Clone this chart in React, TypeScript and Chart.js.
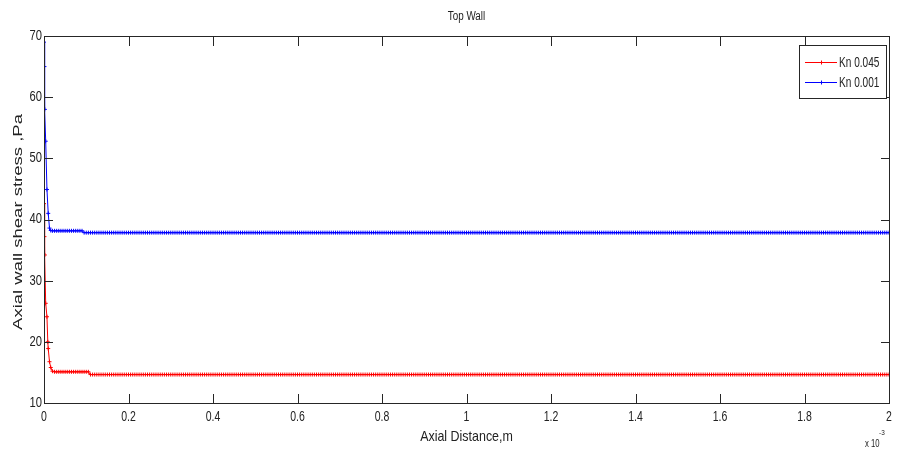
import React, { useEffect, useRef } from "react";
import { Chart, registerables } from "chart.js";

Chart.register(...registerables);

const chartTitle = "Top Wall";
const xTitle = "Axial Distance,m";
const yTitle = "Axial wall shear stress ,Pa";
const xExponentBase = "x 10";
const xExponentPower = "-3";
const seriesNames = ["Kn 0.045", "Kn 0.001"];
const seriesColors = ["#ff0000", "#0000ff"];

const xTickValues = [0, 0.2, 0.4, 0.6, 0.8, 1, 1.2, 1.4, 1.6, 1.8, 2];
const xTickLabels = ["0", "0.2", "0.4", "0.6", "0.8", "1", "1.2", "1.4", "1.6", "1.8", "2"];
const yTickValues = [10, 20, 30, 40, 50, 60, 70];
const yTickLabels = ["10", "20", "30", "40", "50", "60", "70"];

// Near-inlet points (x in units of 1e-3 m)
const redHeadX = [0, 0.001, 0.002, 0.004, 0.007, 0.009, 0.01, 0.013, 0.016];
const redHeadY = [42.6, 37.2, 34.2, 26.3, 24.1, 20.0, 18.9, 16.75, 15.8];
const blueHeadX = [0, 0.001, 0.002, 0.004, 0.007, 0.01, 0.013, 0.016];
const blueHeadY = [69, 65, 58, 52.8, 44.9, 41.0, 38.6, 38.2];

// Developed region, shared x positions
const tailX = [
  0.020, 0.025, 0.030, 0.035, 0.040, 0.045, 0.050, 0.055, 0.060, 0.065, 0.070, 0.075, 0.080, 0.085, 0.090, 0.095,
  0.100, 0.105, 0.110, 0.115, 0.120, 0.125, 0.130, 0.135, 0.140, 0.145, 0.150, 0.155, 0.160, 0.165, 0.170, 0.175, 0.180, 0.185, 0.190, 0.195,
  0.200, 0.205, 0.210, 0.215, 0.220, 0.225, 0.230, 0.235, 0.240, 0.245, 0.250, 0.255, 0.260, 0.265, 0.270, 0.275, 0.280, 0.285, 0.290, 0.295,
  0.300, 0.305, 0.310, 0.315, 0.320, 0.325, 0.330, 0.335, 0.340, 0.345, 0.350, 0.355, 0.360, 0.365, 0.370, 0.375, 0.380, 0.385, 0.390, 0.395,
  0.400, 0.405, 0.410, 0.415, 0.420, 0.425, 0.430, 0.435, 0.440, 0.445, 0.450, 0.455, 0.460, 0.465, 0.470, 0.475, 0.480, 0.485, 0.490, 0.495,
  0.500, 0.505, 0.510, 0.515, 0.520, 0.525, 0.530, 0.535, 0.540, 0.545, 0.550, 0.555, 0.560, 0.565, 0.570, 0.575, 0.580, 0.585, 0.590, 0.595,
  0.600, 0.605, 0.610, 0.615, 0.620, 0.625, 0.630, 0.635, 0.640, 0.645, 0.650, 0.655, 0.660, 0.665, 0.670, 0.675, 0.680, 0.685, 0.690, 0.695,
  0.700, 0.705, 0.710, 0.715, 0.720, 0.725, 0.730, 0.735, 0.740, 0.745, 0.750, 0.755, 0.760, 0.765, 0.770, 0.775, 0.780, 0.785, 0.790, 0.795,
  0.800, 0.805, 0.810, 0.815, 0.820, 0.825, 0.830, 0.835, 0.840, 0.845, 0.850, 0.855, 0.860, 0.865, 0.870, 0.875, 0.880, 0.885, 0.890, 0.895,
  0.900, 0.905, 0.910, 0.915, 0.920, 0.925, 0.930, 0.935, 0.940, 0.945, 0.950, 0.955, 0.960, 0.965, 0.970, 0.975, 0.980, 0.985, 0.990, 0.995,
  1.000, 1.005, 1.010, 1.015, 1.020, 1.025, 1.030, 1.035, 1.040, 1.045, 1.050, 1.055, 1.060, 1.065, 1.070, 1.075, 1.080, 1.085, 1.090, 1.095,
  1.100, 1.105, 1.110, 1.115, 1.120, 1.125, 1.130, 1.135, 1.140, 1.145, 1.150, 1.155, 1.160, 1.165, 1.170, 1.175, 1.180, 1.185, 1.190, 1.195,
  1.200, 1.205, 1.210, 1.215, 1.220, 1.225, 1.230, 1.235, 1.240, 1.245, 1.250, 1.255, 1.260, 1.265, 1.270, 1.275, 1.280, 1.285, 1.290, 1.295,
  1.300, 1.305, 1.310, 1.315, 1.320, 1.325, 1.330, 1.335, 1.340, 1.345, 1.350, 1.355, 1.360, 1.365, 1.370, 1.375, 1.380, 1.385, 1.390, 1.395,
  1.400, 1.405, 1.410, 1.415, 1.420, 1.425, 1.430, 1.435, 1.440, 1.445, 1.450, 1.455, 1.460, 1.465, 1.470, 1.475, 1.480, 1.485, 1.490, 1.495,
  1.500, 1.505, 1.510, 1.515, 1.520, 1.525, 1.530, 1.535, 1.540, 1.545, 1.550, 1.555, 1.560, 1.565, 1.570, 1.575, 1.580, 1.585, 1.590, 1.595,
  1.600, 1.605, 1.610, 1.615, 1.620, 1.625, 1.630, 1.635, 1.640, 1.645, 1.650, 1.655, 1.660, 1.665, 1.670, 1.675, 1.680, 1.685, 1.690, 1.695,
  1.700, 1.705, 1.710, 1.715, 1.720, 1.725, 1.730, 1.735, 1.740, 1.745, 1.750, 1.755, 1.760, 1.765, 1.770, 1.775, 1.780, 1.785, 1.790, 1.795,
  1.800, 1.805, 1.810, 1.815, 1.820, 1.825, 1.830, 1.835, 1.840, 1.845, 1.850, 1.855, 1.860, 1.865, 1.870, 1.875, 1.880, 1.885, 1.890, 1.895,
  1.900, 1.905, 1.910, 1.915, 1.920, 1.925, 1.930, 1.935, 1.940, 1.945, 1.950, 1.955, 1.960, 1.965, 1.970, 1.975, 1.980, 1.985, 1.990, 1.995,
  2.000,
];

const redTailY = [
  15.2, 15.1, 15.1, 15.1, 15.1, 15.1, 15.1, 15.1, 15.1, 15.1, 15.1, 15.1, 15.1, 15.1, 15.1, 15.1,
  15.1, 15.1, 14.65, 14.65, 14.65, 14.65, 14.65, 14.65, 14.65, 14.65, 14.65, 14.65, 14.65, 14.65, 14.65, 14.65, 14.65, 14.65, 14.65, 14.65,
  14.65, 14.65, 14.65, 14.65, 14.65, 14.65, 14.65, 14.65, 14.65, 14.65, 14.65, 14.65, 14.65, 14.65, 14.65, 14.65, 14.65, 14.65, 14.65, 14.65,
  14.65, 14.65, 14.65, 14.65, 14.65, 14.65, 14.65, 14.65, 14.65, 14.65, 14.65, 14.65, 14.65, 14.65, 14.65, 14.65, 14.65, 14.65, 14.65, 14.65,
  14.65, 14.65, 14.65, 14.65, 14.65, 14.65, 14.65, 14.65, 14.65, 14.65, 14.65, 14.65, 14.65, 14.65, 14.65, 14.65, 14.65, 14.65, 14.65, 14.65,
  14.65, 14.65, 14.65, 14.65, 14.65, 14.65, 14.65, 14.65, 14.65, 14.65, 14.65, 14.65, 14.65, 14.65, 14.65, 14.65, 14.65, 14.65, 14.65, 14.65,
  14.65, 14.65, 14.65, 14.65, 14.65, 14.65, 14.65, 14.65, 14.65, 14.65, 14.65, 14.65, 14.65, 14.65, 14.65, 14.65, 14.65, 14.65, 14.65, 14.65,
  14.65, 14.65, 14.65, 14.65, 14.65, 14.65, 14.65, 14.65, 14.65, 14.65, 14.65, 14.65, 14.65, 14.65, 14.65, 14.65, 14.65, 14.65, 14.65, 14.65,
  14.65, 14.65, 14.65, 14.65, 14.65, 14.65, 14.65, 14.65, 14.65, 14.65, 14.65, 14.65, 14.65, 14.65, 14.65, 14.65, 14.65, 14.65, 14.65, 14.65,
  14.65, 14.65, 14.65, 14.65, 14.65, 14.65, 14.65, 14.65, 14.65, 14.65, 14.65, 14.65, 14.65, 14.65, 14.65, 14.65, 14.65, 14.65, 14.65, 14.65,
  14.65, 14.65, 14.65, 14.65, 14.65, 14.65, 14.65, 14.65, 14.65, 14.65, 14.65, 14.65, 14.65, 14.65, 14.65, 14.65, 14.65, 14.65, 14.65, 14.65,
  14.65, 14.65, 14.65, 14.65, 14.65, 14.65, 14.65, 14.65, 14.65, 14.65, 14.65, 14.65, 14.65, 14.65, 14.65, 14.65, 14.65, 14.65, 14.65, 14.65,
  14.65, 14.65, 14.65, 14.65, 14.65, 14.65, 14.65, 14.65, 14.65, 14.65, 14.65, 14.65, 14.65, 14.65, 14.65, 14.65, 14.65, 14.65, 14.65, 14.65,
  14.65, 14.65, 14.65, 14.65, 14.65, 14.65, 14.65, 14.65, 14.65, 14.65, 14.65, 14.65, 14.65, 14.65, 14.65, 14.65, 14.65, 14.65, 14.65, 14.65,
  14.65, 14.65, 14.65, 14.65, 14.65, 14.65, 14.65, 14.65, 14.65, 14.65, 14.65, 14.65, 14.65, 14.65, 14.65, 14.65, 14.65, 14.65, 14.65, 14.65,
  14.65, 14.65, 14.65, 14.65, 14.65, 14.65, 14.65, 14.65, 14.65, 14.65, 14.65, 14.65, 14.65, 14.65, 14.65, 14.65, 14.65, 14.65, 14.65, 14.65,
  14.65, 14.65, 14.65, 14.65, 14.65, 14.65, 14.65, 14.65, 14.65, 14.65, 14.65, 14.65, 14.65, 14.65, 14.65, 14.65, 14.65, 14.65, 14.65, 14.65,
  14.65, 14.65, 14.65, 14.65, 14.65, 14.65, 14.65, 14.65, 14.65, 14.65, 14.65, 14.65, 14.65, 14.65, 14.65, 14.65, 14.65, 14.65, 14.65, 14.65,
  14.65, 14.65, 14.65, 14.65, 14.65, 14.65, 14.65, 14.65, 14.65, 14.65, 14.65, 14.65, 14.65, 14.65, 14.65, 14.65, 14.65, 14.65, 14.65, 14.65,
  14.65, 14.65, 14.65, 14.65, 14.65, 14.65, 14.65, 14.65, 14.65, 14.65, 14.65, 14.65, 14.65, 14.65, 14.65, 14.65, 14.65, 14.65, 14.65, 14.65,
  14.65,
];

const blueTailY = [
  38.15, 38.15, 38.15, 38.15, 38.15, 38.15, 38.15, 38.15, 38.15, 38.15, 38.15, 38.15, 38.15, 38.15, 38.15, 37.85,
  37.85, 37.85, 37.85, 37.85, 37.85, 37.85, 37.85, 37.85, 37.85, 37.85, 37.85, 37.85, 37.85, 37.85, 37.85, 37.85, 37.85, 37.85, 37.85, 37.85,
  37.85, 37.85, 37.85, 37.85, 37.85, 37.85, 37.85, 37.85, 37.85, 37.85, 37.85, 37.85, 37.85, 37.85, 37.85, 37.85, 37.85, 37.85, 37.85, 37.85,
  37.85, 37.85, 37.85, 37.85, 37.85, 37.85, 37.85, 37.85, 37.85, 37.85, 37.85, 37.85, 37.85, 37.85, 37.85, 37.85, 37.85, 37.85, 37.85, 37.85,
  37.85, 37.85, 37.85, 37.85, 37.85, 37.85, 37.85, 37.85, 37.85, 37.85, 37.85, 37.85, 37.85, 37.85, 37.85, 37.85, 37.85, 37.85, 37.85, 37.85,
  37.85, 37.85, 37.85, 37.85, 37.85, 37.85, 37.85, 37.85, 37.85, 37.85, 37.85, 37.85, 37.85, 37.85, 37.85, 37.85, 37.85, 37.85, 37.85, 37.85,
  37.85, 37.85, 37.85, 37.85, 37.85, 37.85, 37.85, 37.85, 37.85, 37.85, 37.85, 37.85, 37.85, 37.85, 37.85, 37.85, 37.85, 37.85, 37.85, 37.85,
  37.85, 37.85, 37.85, 37.85, 37.85, 37.85, 37.85, 37.85, 37.85, 37.85, 37.85, 37.85, 37.85, 37.85, 37.85, 37.85, 37.85, 37.85, 37.85, 37.85,
  37.85, 37.85, 37.85, 37.85, 37.85, 37.85, 37.85, 37.85, 37.85, 37.85, 37.85, 37.85, 37.85, 37.85, 37.85, 37.85, 37.85, 37.85, 37.85, 37.85,
  37.85, 37.85, 37.85, 37.85, 37.85, 37.85, 37.85, 37.85, 37.85, 37.85, 37.85, 37.85, 37.85, 37.85, 37.85, 37.85, 37.85, 37.85, 37.85, 37.85,
  37.85, 37.85, 37.85, 37.85, 37.85, 37.85, 37.85, 37.85, 37.85, 37.85, 37.85, 37.85, 37.85, 37.85, 37.85, 37.85, 37.85, 37.85, 37.85, 37.85,
  37.85, 37.85, 37.85, 37.85, 37.85, 37.85, 37.85, 37.85, 37.85, 37.85, 37.85, 37.85, 37.85, 37.85, 37.85, 37.85, 37.85, 37.85, 37.85, 37.85,
  37.85, 37.85, 37.85, 37.85, 37.85, 37.85, 37.85, 37.85, 37.85, 37.85, 37.85, 37.85, 37.85, 37.85, 37.85, 37.85, 37.85, 37.85, 37.85, 37.85,
  37.85, 37.85, 37.85, 37.85, 37.85, 37.85, 37.85, 37.85, 37.85, 37.85, 37.85, 37.85, 37.85, 37.85, 37.85, 37.85, 37.85, 37.85, 37.85, 37.85,
  37.85, 37.85, 37.85, 37.85, 37.85, 37.85, 37.85, 37.85, 37.85, 37.85, 37.85, 37.85, 37.85, 37.85, 37.85, 37.85, 37.85, 37.85, 37.85, 37.85,
  37.85, 37.85, 37.85, 37.85, 37.85, 37.85, 37.85, 37.85, 37.85, 37.85, 37.85, 37.85, 37.85, 37.85, 37.85, 37.85, 37.85, 37.85, 37.85, 37.85,
  37.85, 37.85, 37.85, 37.85, 37.85, 37.85, 37.85, 37.85, 37.85, 37.85, 37.85, 37.85, 37.85, 37.85, 37.85, 37.85, 37.85, 37.85, 37.85, 37.85,
  37.85, 37.85, 37.85, 37.85, 37.85, 37.85, 37.85, 37.85, 37.85, 37.85, 37.85, 37.85, 37.85, 37.85, 37.85, 37.85, 37.85, 37.85, 37.85, 37.85,
  37.85, 37.85, 37.85, 37.85, 37.85, 37.85, 37.85, 37.85, 37.85, 37.85, 37.85, 37.85, 37.85, 37.85, 37.85, 37.85, 37.85, 37.85, 37.85, 37.85,
  37.85, 37.85, 37.85, 37.85, 37.85, 37.85, 37.85, 37.85, 37.85, 37.85, 37.85, 37.85, 37.85, 37.85, 37.85, 37.85, 37.85, 37.85, 37.85, 37.85,
  37.85,
];

const SANS = '"Liberation Sans", Arial, sans-serif';
const TEXT = "#222222";

function toPoints(hx: number[], hy: number[], tx: number[], ty: number[]) {
  const pts = hx.map((x, i) => ({ x, y: hy[i] }));
  tx.forEach((x, i) => {
    if (ty[i] !== undefined) pts.push({ x, y: ty[i] });
  });
  return pts;
}

function drawText(
  ctx: CanvasRenderingContext2D,
  text: string,
  x: number,
  y: number,
  size: number,
  sx: number,
  align: CanvasTextAlign
) {
  ctx.save();
  ctx.translate(x, y);
  ctx.scale(sx, 1);
  ctx.font = `${size}px ${SANS}`;
  ctx.fillStyle = TEXT;
  ctx.textAlign = align;
  ctx.textBaseline = "middle";
  ctx.fillText(text, 0, 0);
  ctx.restore();
}

const decorPlugin = {
  id: "matlabDecor",
  afterDraw(chart: any) {
    const { ctx, chartArea: a, scales } = chart;
    ctx.save();
    // box
    ctx.strokeStyle = "#262626";
    ctx.lineWidth = 1;
    ctx.strokeRect(a.left + 0.5, a.top + 0.5, a.right - a.left, a.bottom - a.top);
    // inward ticks
    ctx.beginPath();
    xTickValues.forEach((v) => {
      const px = Math.round(scales.x.getPixelForValue(v)) + 0.5;
      ctx.moveTo(px, a.bottom + 0.5);
      ctx.lineTo(px, a.bottom - 9);
      ctx.moveTo(px, a.top + 0.5);
      ctx.lineTo(px, a.top + 10);
    });
    yTickValues.forEach((v) => {
      const py = Math.round(scales.y.getPixelForValue(v)) + 0.5;
      ctx.moveTo(a.left + 0.5, py);
      ctx.lineTo(a.left + 9, py);
      ctx.moveTo(a.right + 0.5, py);
      ctx.lineTo(a.right - 8, py);
    });
    ctx.stroke();

    // tick labels
    xTickValues.forEach((v, i) => {
      const px = scales.x.getPixelForValue(v);
      drawText(ctx, xTickLabels[i], px, 417, 15, 0.7, "center");
    });
    yTickValues.forEach((v, i) => {
      const py = scales.y.getPixelForValue(v);
      drawText(ctx, yTickLabels[i], a.left - 2, py, 14, 0.8, "right");
    });

    // legend
    const lx = 799.5, ly = 45.5, lw = 87, lh = 53;
    ctx.fillStyle = "#ffffff";
    ctx.fillRect(lx, ly, lw, lh);
    ctx.strokeStyle = "#262626";
    ctx.strokeRect(lx, ly, lw, lh);
    const rows = [62.5, 82.5];
    seriesNames.forEach((name, i) => {
      const y = rows[i];
      ctx.strokeStyle = seriesColors[i];
      ctx.beginPath();
      ctx.moveTo(805, y);
      ctx.lineTo(837, y);
      ctx.moveTo(821.5, y - 2);
      ctx.lineTo(821.5, y + 2);
      ctx.stroke();
      drawText(ctx, name, 839, y + 0.5, 14, 0.72, "left");
    });

    // chart title
    drawText(ctx, chartTitle, (a.left + a.right) / 2, 17, 12, 0.82, "center");
    // x title
    drawText(ctx, xTitle, (a.left + a.right) / 2, 437, 15, 0.83, "center");
    // exponent
    drawText(ctx, xExponentBase, 865, 444, 11, 0.7, "left");
    drawText(ctx, xExponentPower, 879, 433, 8, 0.8, "left");

    // y title (rotated, horizontally condensed)
    ctx.save();
    ctx.translate(19, 222);
    ctx.rotate(-Math.PI / 2);
    ctx.scale(1, 0.65);
    ctx.font = `18.5px ${SANS}`;
    ctx.fillStyle = TEXT;
    ctx.textAlign = "center";
    ctx.textBaseline = "middle";
    ctx.fillText(yTitle, 0, 0);
    ctx.restore();

    ctx.restore();
  },
};

export default function App() {
  const canvasRef = useRef<HTMLCanvasElement | null>(null);

  useEffect(() => {
    if (!canvasRef.current) return;
    const redPts = toPoints(redHeadX, redHeadY, tailX, redTailY);
    const bluePts = toPoints(blueHeadX, blueHeadY, tailX, blueTailY);
    const common = {
      borderWidth: 1,
      pointStyle: "cross",
      pointRadius: 2,
      pointBorderWidth: 1,
      pointHoverRadius: 2,
      fill: false,
      tension: 0,
    };
    const chart = new Chart(canvasRef.current, {
      type: "line",
      data: {
        datasets: [
          {
            ...common,
            label: seriesNames[0],
            data: redPts,
            borderColor: seriesColors[0],
            backgroundColor: seriesColors[0],
            pointBorderColor: seriesColors[0],
          },
          {
            ...common,
            label: seriesNames[1],
            data: bluePts,
            borderColor: seriesColors[1],
            backgroundColor: seriesColors[1],
            pointBorderColor: seriesColors[1],
          },
        ],
      } as any,
      options: {
        responsive: false,
        animation: false,
        devicePixelRatio: 1,
        layout: { padding: { top: 36, right: 9, bottom: 0, left: 0 } },
        plugins: {
          legend: { display: false },
          title: { display: false },
          tooltip: { enabled: false },
        },
        scales: {
          x: {
            type: "linear",
            min: 0,
            max: 2,
            grid: { display: false, drawTicks: false },
            border: { display: false },
            ticks: { display: false },
            afterFit: (s: any) => {
              s.height = 56;
            },
          },
          y: {
            type: "linear",
            min: 10,
            max: 70,
            grid: { display: false, drawTicks: false },
            border: { display: false },
            ticks: { display: false },
            afterFit: (s: any) => {
              s.width = 44;
            },
          },
        },
      } as any,
      plugins: [decorPlugin],
    });
    return () => chart.destroy();
  }, []);

  return (
    <div style={{ position: "absolute", left: 0, top: 0, width: 898, height: 459, background: "#ffffff" }}>
      <canvas ref={canvasRef} width={898} height={459} style={{ display: "block" }} />
    </div>
  );
}
